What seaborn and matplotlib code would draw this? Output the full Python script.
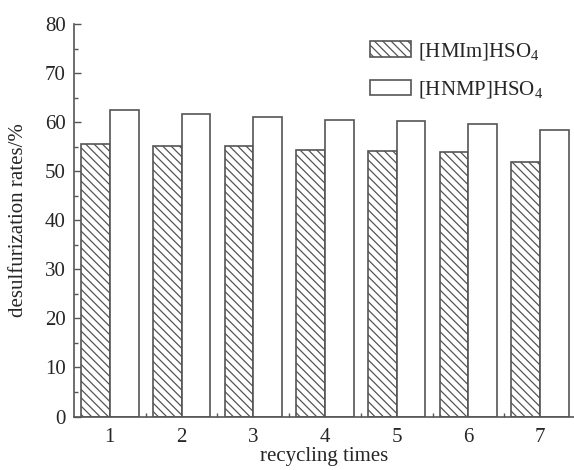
import matplotlib
matplotlib.use("Agg")
import matplotlib.pyplot as plt
import seaborn as sns
import pandas as pd
from matplotlib.patches import Patch
from matplotlib.ticker import MultipleLocator, FixedLocator

cycles = ["1", "2", "3", "4", "5", "6", "7"]
hmim = [55.5, 55.2, 55.2, 54.3, 54.1, 54.0, 51.9]
hnmp = [62.5, 61.6, 61.0, 60.4, 60.2, 59.7, 58.4]
series_names = ["[HMIm]HSO$_4$", "[HNMP]HSO$_4$"]

df = pd.DataFrame({
    "cycle": cycles * 2,
    "rate": hmim + hnmp,
    "series": [series_names[0]] * 7 + [series_names[1]] * 7,
})

sns.set_style("ticks")
plt.rcParams["font.family"] = ["Liberation Serif", "DejaVu Serif"]
plt.rcParams["mathtext.fontset"] = "custom"
plt.rcParams["mathtext.rm"] = "Liberation Serif"
plt.rcParams["mathtext.it"] = "Liberation Serif:italic"
plt.rcParams["hatch.linewidth"] = 0.9
plt.rcParams["hatch.color"] = "#333333"

fig = plt.figure(figsize=(5.74, 4.70), dpi=100)
ax = fig.add_axes([74 / 574, 53.5 / 470, 500 / 574, 392.5 / 470])

sns.barplot(data=df, x="cycle", y="rate", hue="series", ax=ax,
            palette=["white", "white"], width=0.8, edgecolor="#555555",
            linewidth=1.2, legend=False, saturation=1)

n = len(cycles)
for i, p in enumerate(ax.patches[:2 * n]):
    if i < n:
        p.set_hatch("\\\\\\\\")

ax.set_xlim(-0.5, -0.5 + 500 / 71.7)
ax.set_ylim(0, 80)
ax.yaxis.set_major_locator(MultipleLocator(10))
ax.yaxis.set_minor_locator(MultipleLocator(5))
ax.xaxis.set_minor_locator(FixedLocator([i + 0.5 for i in range(n)]))

for s in ["top", "right"]:
    ax.spines[s].set_visible(False)
for s in ["left", "bottom"]:
    ax.spines[s].set_color("#555555")
    ax.spines[s].set_linewidth(1.2)

ax.tick_params(axis="both", which="major", direction="in", length=5,
               width=1.0, color="#555555", labelsize=15, pad=6)
ax.tick_params(axis="both", which="minor", direction="in", length=3,
               width=1.0, color="#555555")
ax.tick_params(axis="x", which="major", pad=8)

ax.set_xlabel("recycling times", fontsize=15, labelpad=0)
ax.set_ylabel("desulfurization rates/%", fontsize=15, labelpad=12)

handles = [
    Patch(facecolor="white", edgecolor="#555555", hatch="\\\\\\\\", linewidth=1.2),
    Patch(facecolor="white", edgecolor="#555555", linewidth=1.2),
]
ax.legend(handles, series_names, loc="upper right", frameon=False,
          fontsize=15, handlelength=2.0, handleheight=0.75,
          labelspacing=0.85, handletextpad=0.3,
          bbox_to_anchor=(0.975, 1.005))

fig.savefig("out.png", dpi=100)
